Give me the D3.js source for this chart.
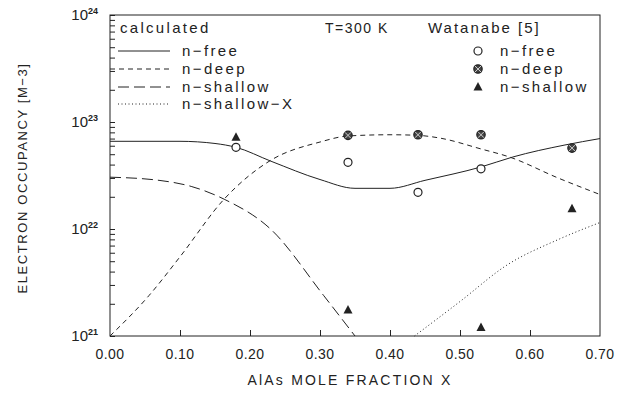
<!DOCTYPE html>
<html>
<head>
<meta charset="utf-8">
<script src="https://cdnjs.cloudflare.com/ajax/libs/d3/7.8.5/d3.min.js"></script>
<style>
	body { margin: 0; background: #fff; }
	text { font-family: "Liberation Sans", Arial, sans-serif; fill: #222; }
</style>
</head>
<body>
<div id="chart"></div>
<script>

const WIDTH = 618;
const HEIGHT = 404;
const INK = "#222";

// calculated curves
const xFree = [0, 0.10, 0.15, 0.18, 0.23, 0.30, 0.35, 0.40, 0.45, 0.53, 0.575, 0.65, 0.70];
const nFree = [6.6e22, 6.6e22, 6.3e22, 5.8e22, 4.3e22, 2.9e22, 2.4e22, 2.4e22, 2.85e22, 3.8e22, 4.7e22, 6.1e22, 7.0e22];

const xDeep = [0, 0.056, 0.10, 0.163, 0.23, 0.30, 0.34, 0.40, 0.44, 0.47, 0.53, 0.571, 0.64, 0.70];
const nDeep = [1.0e21, 2.4e21, 5.5e21, 1.9e22, 4.4e22, 6.5e22, 7.4e22, 7.6e22, 7.5e22, 7.1e22, 5.6e22, 4.7e22, 3.0e22, 2.1e22];

const xShallow = [0, 0.07, 0.116, 0.163, 0.23, 0.305, 0.35];
const nShallow = [3.05e22, 2.85e22, 2.5e22, 1.9e22, 9.9e21, 2.4e21, 1.0e21];

const xShallowX = [0.435, 0.50, 0.567, 0.639, 0.70];
const nShallowX = [1.0e21, 2.1e21, 4.6e21, 7.9e21, 1.15e22];

// Watanabe [5] measurements
const xMeasFree = [0.18, 0.34, 0.44, 0.53];
const nMeasFree = [5.8e22, 4.2e22, 2.2e22, 3.65e22];
const xMeasDeep = [0.34, 0.44, 0.53, 0.66];
const nMeasDeep = [7.5e22, 7.6e22, 7.6e22, 5.7e22];
const xMeasShallow = [0.18, 0.34, 0.53, 0.66];
const nMeasShallow = [7.2e22, 1.75e21, 1.2e21, 1.55e22];

// axes
const xTicks = [0, 0.1, 0.2, 0.3, 0.4, 0.5, 0.6, 0.7];
const yDecades = [21, 22, 23, 24];

const calcLabels = ["n\u2212free", "n\u2212deep", "n\u2212shallow", "n\u2212shallow\u2212X"];
const measLabels = ["n\u2212free", "n\u2212deep", "n\u2212shallow"];
const dashes = [null, "5,4", "11,5", "1,2.5"];


const svg = d3.select("#chart")
			  .append("svg")
			  .attr("width", WIDTH)
			  .attr("height", HEIGHT);

const x = d3.scaleLinear().domain([0, 0.7]).range([110, 600]);
const y = d3.scaleLog().domain([1e21, 1e24]).range([336, 15]);

/* Frame */
svg.append("rect")
   .attr("x", x(0))
   .attr("y", y(1e24))
   .attr("width", x(0.7) - x(0))
   .attr("height", y(1e21) - y(1e24))
   .attr("fill", "none")
   .attr("stroke", INK)
   .attr("stroke-width", 1);

/* Y axis: log ticks pointing inward */
const yAxis = d3.axisRight(y)
				.tickValues(d3.range(21, 24).flatMap(d => d3.range(1, 10).map(k => k * Math.pow(10, d))).concat([1e24]))
				.tickSize(5)
				.tickFormat("");
svg.append("g")
   .attr("transform", `translate(${x(0)},0)`)
   .call(yAxis)
   .call(g => g.select(".domain").remove())
   .selectAll("line").attr("stroke", INK);

yDecades.forEach(function(d) {
	const t = svg.append("text")
				 .attr("x", 98)
				 .attr("y", y(Math.pow(10, d)) + 5)
				 .attr("text-anchor", "end")
				 .attr("font-size", 15);
	t.append("tspan").text("10");
	t.append("tspan").attr("dy", -6).attr("font-size", 9).attr("font-weight", "bold").text(d);
});

/* X axis */
const xAxis = d3.axisTop(x)
				.tickValues(xTicks.slice(1, -1))
				.tickSize(6)
				.tickFormat("");
svg.append("g")
   .attr("transform", `translate(0,${y(1e21)})`)
   .call(xAxis)
   .call(g => g.select(".domain").remove())
   .selectAll("line").attr("stroke", INK);

svg.selectAll(".xlab")
   .data(xTicks)
   .enter()
   .append("text")
   .attr("class", "xlab")
   .attr("x", d => x(d))
   .attr("y", 359)
   .attr("text-anchor", "middle")
   .attr("font-size", 14)
   .attr("letter-spacing", 0.5)
   .text(d => d.toFixed(2));

svg.append("text")
   .attr("x", 350)
   .attr("y", 385)
   .attr("text-anchor", "middle")
   .attr("font-size", 14)
   .attr("letter-spacing", 2.2)
   .text("AlAs MOLE FRACTION X");

svg.append("text")
   .attr("transform", "translate(27,178) rotate(-90)")
   .attr("text-anchor", "middle")
   .attr("font-size", 13)
   .attr("letter-spacing", 1.6)
   .text("ELECTRON OCCUPANCY [M\u22123]");

/* Curves */
const line = d3.line()
			   .x(d => x(d[0]))
			   .y(d => y(d[1]))
			   .curve(d3.curveMonotoneX);

const curves = [[xFree, nFree], [xDeep, nDeep], [xShallow, nShallow], [xShallowX, nShallowX]];
curves.forEach(function(c, i) {
	svg.append("path")
	   .datum(d3.zip(c[0], c[1]))
	   .attr("d", line)
	   .attr("fill", "none")
	   .attr("stroke", INK)
	   .attr("stroke-width", 1)
	   .attr("stroke-dasharray", dashes[i]);
});

/* Measurement markers */
function openCircle(g, cx, cy) {
	g.append("circle").attr("cx", cx).attr("cy", cy).attr("r", 4)
	 .attr("fill", "#fff").attr("stroke", INK).attr("stroke-width", 1.2);
}
function crossCircle(g, cx, cy) {
	g.append("circle").attr("cx", cx).attr("cy", cy).attr("r", 4.2)
	 .attr("fill", "#444").attr("stroke", INK).attr("stroke-width", 1.2);
	g.append("path")
	 .attr("d", `M${cx - 3},${cy - 3}L${cx + 3},${cy + 3}M${cx + 3},${cy - 3}L${cx - 3},${cy + 3}`)
	 .attr("stroke", "#ccc").attr("stroke-width", 1);
}
function triangle(g, cx, cy) {
	g.append("path")
	 .attr("d", `M${cx},${cy - 5}L${cx + 4.5},${cy + 3.5}L${cx - 4.5},${cy + 3.5}Z`)
	 .attr("fill", INK);
}

const marks = svg.append("g");
xMeasFree.forEach((d, i) => openCircle(marks, x(d), y(nMeasFree[i])));
xMeasDeep.forEach((d, i) => crossCircle(marks, x(d), y(nMeasDeep[i])));
xMeasShallow.forEach((d, i) => triangle(marks, x(d), y(nMeasShallow[i])));

/* Legends */
svg.append("text").attr("x", 120).attr("y", 33).attr("font-size", 15).attr("letter-spacing", 2.3).text("calculated");
svg.append("text").attr("x", 325).attr("y", 33).attr("font-size", 14).attr("letter-spacing", 1.5).text("T=300 K");
svg.append("text").attr("x", 428).attr("y", 33).attr("font-size", 15).attr("letter-spacing", 2).text("Watanabe [5]");

const legY = [51, 69, 87, 104];
calcLabels.forEach(function(d, i) {
	svg.append("line")
	   .attr("x1", i == 1 ? 110 : 118).attr("x2", 170)
	   .attr("y1", legY[i]).attr("y2", legY[i])
	   .attr("stroke", INK)
	   .attr("stroke-dasharray", dashes[i]);
	svg.append("text")
	   .attr("x", 182)
	   .attr("y", legY[i] + 5)
	   .attr("font-size", 15)
	   .attr("letter-spacing", 2.4)
	   .text(d);
});

const measMarkers = [openCircle, crossCircle, triangle];
measLabels.forEach(function(d, i) {
	measMarkers[i](svg, 478, legY[i]);
	svg.append("text")
	   .attr("x", 500)
	   .attr("y", legY[i] + 5)
	   .attr("font-size", 15)
	   .attr("letter-spacing", 2.4)
	   .text(d);
});

</script>
</body>
</html>
